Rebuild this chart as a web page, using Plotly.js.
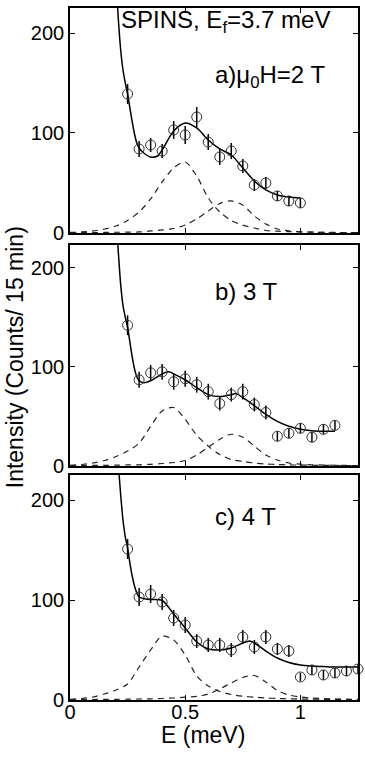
<!DOCTYPE html>
<html>
<head>
<meta charset="utf-8">
<script src="https://cdn.plot.ly/plotly-3.0.1.min.js"></script>
<style>html,body{margin:0;padding:0;background:#fff;}#chart{width:365px;height:759px;}</style>
</head>
<body>
<div id="chart"></div>
<script>
// ---- measured data points (E in meV, intensity counts/15 min) ----
var E_a = [0.25,0.30,0.35,0.40,0.45,0.50,0.55,0.60,0.65,0.70,0.75,0.80,0.85,0.90,0.95,1.00];
var I_a = [139,84,88,82,103,98,116,91,76,82,67,48,50,37,32,30];
var err_a = [10,8,7,7,9,9,10,8,8,8,7,6,6,5,5,5];

var E_b = [0.25,0.30,0.35,0.40,0.45,0.50,0.55,0.60,0.65,0.70,0.75,0.80,0.85,0.90,0.95,1.00,1.05,1.10,1.15];
var I_b = [142,87,94,95,85,88,82,75,63,72,75,62,54,30,33,38,29,37,41];
var err_b = [10,8,8,8,8,8,8,8,7,7,8,7,7,5,5,5,5,5,5];

var E_c = [0.25,0.30,0.35,0.40,0.45,0.50,0.55,0.60,0.65,0.70,0.75,0.80,0.85,0.90,0.95,1.00,1.05,1.10,1.15,1.20,1.25];
var I_c = [151,103,106,98,82,75,59,55,55,50,63,53,63,51,49,23,30,25,27,29,31];
var err_c = [10,9,9,8,8,8,7,7,7,7,7,7,7,6,6,4,5,5,5,5,5];

// ---- total fit curves (solid) ----
var fitE_a = [0.20,0.21,0.22,0.23,0.24,0.25,0.26,0.27,0.28,0.29,0.30,0.32,0.35,0.38,0.40,0.45,0.50,0.55,0.60,0.65,0.70,0.75,0.80,0.85,0.90,0.95,1.00];
var fitI_a = [250,213,183,163,150,139,125,111,99,90,85,80,76,77,83,102,110,105,93,84,78,65,52,43,38,36,35];

var fitE_b = [0.20,0.21,0.22,0.23,0.24,0.25,0.26,0.27,0.28,0.29,0.30,0.32,0.35,0.40,0.43,0.45,0.50,0.55,0.60,0.65,0.70,0.72,0.75,0.80,0.85,0.90,0.95,1.00,1.05,1.10,1.15];
var fitI_b = [250,215,183,162,150,140,125,110,98,90,86,84,86,93,95,93,87,79,72,70,72,73,69,61,52,45,40,37,35.5,35,35];

var fitE_c = [0.20,0.21,0.22,0.23,0.24,0.25,0.26,0.27,0.28,0.29,0.30,0.33,0.35,0.40,0.45,0.50,0.55,0.60,0.65,0.70,0.75,0.78,0.80,0.85,0.90,0.95,1.00,1.05,1.10,1.15,1.20,1.25];
var fitI_c = [260,235,205,180,163,152,137,124,114,107,103,101,100.5,99.5,86,72,58,51,50,52,57,59,57,49,42,37.5,35,34,33.5,33,33,33];

// ---- peak components (dashed) ----
var compE = [0,0.05,0.1,0.15,0.2,0.25,0.3,0.35,0.4,0.45,0.5,0.55,0.6,0.65,0.7,0.75,0.8,0.85,0.9,0.95,1.0,1.05,1.1,1.15,1.2,1.25];
var peak1_a = [0.5,1,2,4,7,12.5,21,34,51,65,71,57,35,21,12.5,7.8,5,2.5,1.8,1.3,1,0.8,0.6,0.5,0.4,0.3];
var peak2_a = [0.2,0.3,0.4,0.5,0.7,0.8,1,2,3,4.5,8,14,22,29.5,32,28,17,9,4,2,1.2,0.8,0.5,0.4,0.3,0.2];
var peak1_b = [0.5,1.5,3,5.5,9.5,15,23,40,55.5,59,47,31,20,11.5,6.5,4.5,3,2,1.5,1.1,0.9,0.7,0.6,0.5,0.4,0.3];
var peak2_b = [0.3,0.4,0.5,0.6,0.8,1,1.2,1.7,2.5,3.5,5.5,11,19,27,32,29,20,11,6,3,1.8,1.2,0.9,0.7,0.5,0.4];
var peak1_c = [0.7,1.5,3,6,10,16,33,50,64,60,45,24,14,8.5,5.5,3.8,2.8,2,1.5,1.2,1,0.8,0.7,0.6,0.5,0.4];
var peak2_c = [0.3,0.4,0.5,0.6,0.7,0.8,1,1.2,1.5,2,2.8,3.7,6,11,17,22.5,24.5,18,9.5,5,3,2,1.4,1,0.8,0.6];

// ---- tick labels / texts ----
var xTicks = [0, 0.5, 1];
var xTickText = ['0', '0.5', '1'];
var yTicks = [0, 100, 200];
var yTickText = ['0', '100', '200'];
var panelLabels = ['a)\u03bc<sub>0</sub>H=2 T', 'b) 3 T', 'c) 4 T'];
var headerText = 'SPINS, E<sub>f</sub>=3.7 meV';

var FONT = 'Liberation Sans, Arial, Helvetica, sans-serif';
var panels = [
  {xa:'x3', ya:'y3', E:E_a, I:I_a, err:err_a, fE:fitE_a, fI:fitI_a, p1:peak1_a, p2:peak2_a},
  {xa:'x2', ya:'y2', E:E_b, I:I_b, err:err_b, fE:fitE_b, fI:fitI_b, p1:peak1_b, p2:peak2_b},
  {xa:'x',  ya:'y',  E:E_c, I:I_c, err:err_c, fE:fitE_c, fI:fitI_c, p1:peak1_c, p2:peak2_c}
];

var traces = [];
panels.forEach(function(p){
  [p.p1, p.p2].forEach(function(pk){
    traces.push({x:compE, y:pk, xaxis:p.xa, yaxis:p.ya, mode:'lines', type:'scatter',
      line:{color:'#222', width:1.2, dash:'6px,5px', shape:'spline', smoothing:0.8},
      hoverinfo:'skip', showlegend:false});
  });
  traces.push({x:p.fE, y:p.fI, xaxis:p.xa, yaxis:p.ya, mode:'lines', type:'scatter',
    line:{color:'#000', width:1.5, shape:'spline', smoothing:0.8}, showlegend:false});
  traces.push({x:p.E, y:p.I, xaxis:p.xa, yaxis:p.ya, mode:'markers', type:'scatter',
    marker:{symbol:'circle-open', size:10, color:'#333', line:{width:1, color:'#333'}},
    error_y:{type:'data', array:p.err, visible:true, width:0, thickness:1.5, color:'#000'},
    showlegend:false, cliponaxis:false});
});

function xax(anchor, showLabels){
  return {anchor:anchor, range:[0,1.25], tickvals:xTicks, ticktext:xTickText,
    showticklabels:showLabels, ticks:'inside', ticklen:5, tickwidth:1, tickcolor:'#000',
    ticklabelstandoff:-7,
    showline:true, linecolor:'#000', linewidth:1.8, mirror:'ticks', showgrid:false, zeroline:false,
    tickfont:{family:FONT, size:20, color:'#000'}};
}
function yax(anchor, domain, top){
  return {anchor:anchor, domain:domain, range:[0,top], tickvals:yTicks, ticktext:yTickText,
    ticks:'inside', ticklen:5, tickwidth:1, tickcolor:'#000',
    showline:true, linecolor:'#000', linewidth:1.8, mirror:'ticks', showgrid:false, zeroline:false,
    tickfont:{family:FONT, size:20, color:'#000'}};
}

var layout = {
  width:365, height:759,
  margin:{l:70, r:7, t:8, b:59, pad:0},
  paper_bgcolor:'#fff', plot_bgcolor:'#fff',
  font:{family:FONT, size:20, color:'#000'},
  showlegend:false,
  xaxis: xax('y', true),
  yaxis: yax('x', [0, 0.3251], 225),
  xaxis2: xax('y2', false),
  yaxis2: yax('x2', [0.3382, 0.6575], 223),
  xaxis3: xax('y3', false),
  yaxis3: yax('x3', [0.6749, 1], 225),
  annotations: [
    {text:headerText, xref:'x3', yref:'y3', x:0.212, y:212, xanchor:'left', yanchor:'middle', showarrow:false, font:{family:FONT, size:24, color:'#000'}},
    {text:panelLabels[0], xref:'x3', yref:'y3', x:0.62, y:156, xanchor:'left', yanchor:'middle', showarrow:false, font:{family:FONT, size:24, color:'#000'}},
    {text:panelLabels[1], xref:'x2', yref:'y2', x:0.62, y:176, xanchor:'left', yanchor:'middle', showarrow:false, font:{family:FONT, size:24, color:'#000'}},
    {text:panelLabels[2], xref:'x', yref:'y', x:0.62, y:184, xanchor:'left', yanchor:'middle', showarrow:false, font:{family:FONT, size:24, color:'#000'}},
    {text:'Intensity (Counts/ 15 min)', xref:'paper', yref:'paper', x:-0.19, y:0.4957, xanchor:'center', yanchor:'middle', textangle:-90, showarrow:false, font:{family:FONT, size:23, color:'#000'}},
    {text:'E (meV)', xref:'paper', yref:'paper', x:0.462, y:-0.0506, xanchor:'center', yanchor:'middle', showarrow:false, font:{family:FONT, size:23, color:'#000'}}
  ]
};

Plotly.newPlot('chart', traces, layout, {displayModeBar:false, staticPlot:true});
</script>
</body>
</html>
